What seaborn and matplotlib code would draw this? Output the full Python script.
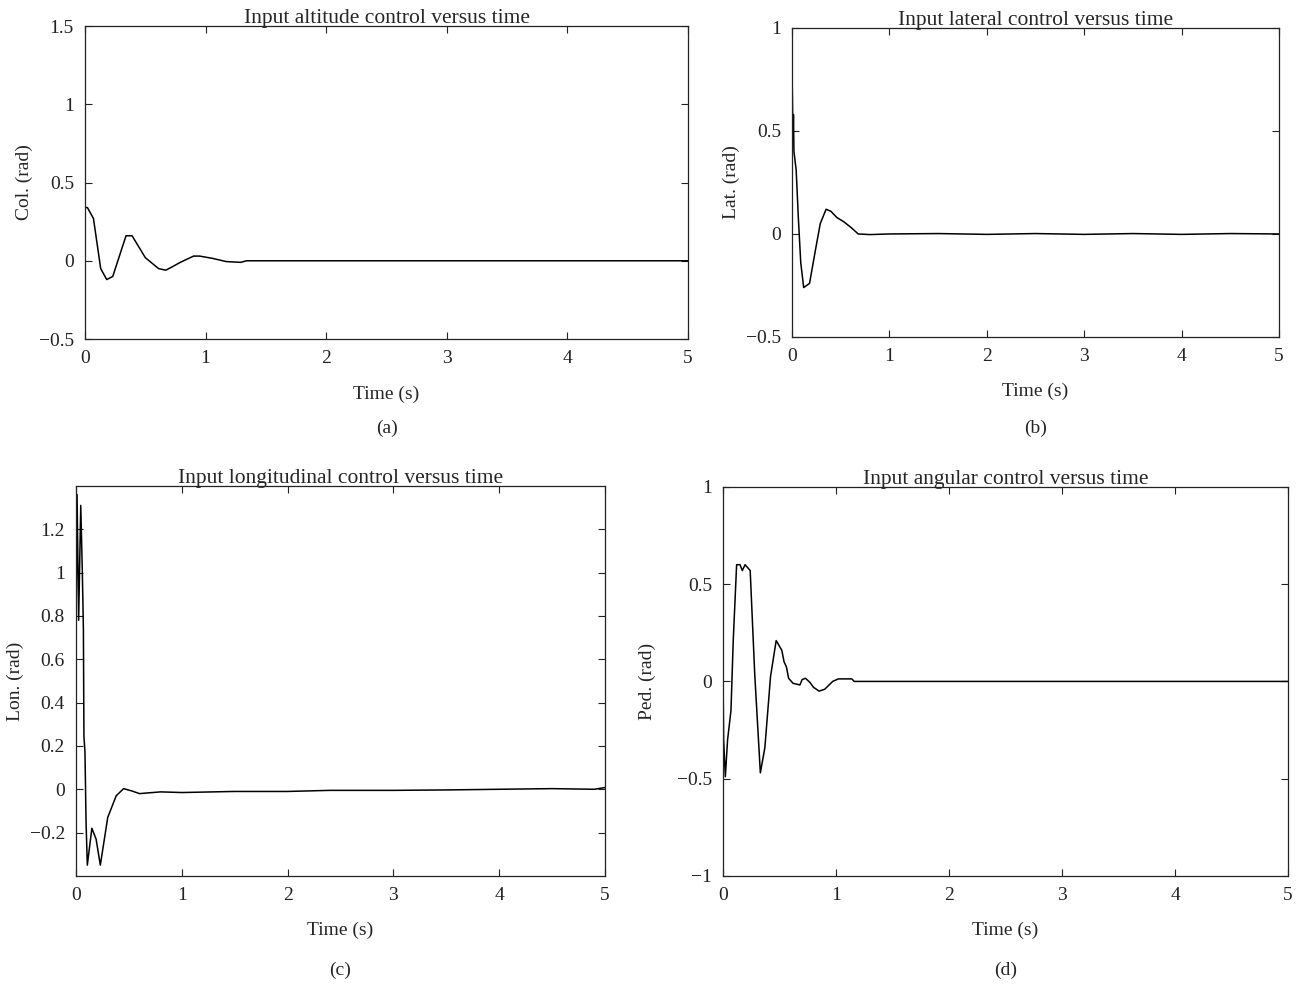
import numpy as np
import pandas as pd
import matplotlib
matplotlib.use("Agg")
import matplotlib.pyplot as plt
import seaborn as sns

# (a) collective / altitude control
col_t = [0.0, 0.02, 0.07, 0.13, 0.18, 0.23, 0.34, 0.39, 0.50, 0.61, 0.67, 0.72,
         0.79, 0.90, 0.95, 1.06, 1.17, 1.29, 1.34, 5.0]
col_u = [0.34, 0.34, 0.27, -0.05, -0.12, -0.10, 0.16, 0.16, 0.02, -0.05, -0.06,
         -0.04, -0.01, 0.03, 0.03, 0.015, -0.005, -0.01, 0.0, 0.0]

# (b) lateral control
lat_t = [0.003, 0.01, 0.015, 0.02, 0.043, 0.065, 0.09, 0.12, 0.18, 0.24, 0.29, 0.35,
         0.40, 0.46, 0.53, 0.61, 0.68, 0.8, 1.0, 1.5, 2.0, 2.5, 3.0, 3.5, 4.0,
         4.5, 5.0]
lat_u = [0.71, 0.45, 0.58, 0.40, 0.31, 0.08, -0.14, -0.26, -0.24, -0.08, 0.05,
         0.12, 0.11, 0.08, 0.06, 0.03, 0.0, -0.003, 0.0, 0.002, -0.002, 0.002,
         -0.002, 0.002, -0.002, 0.002, 0.0]

# (c) longitudinal control
lon_t = [0.0, 0.01, 0.025, 0.045, 0.06, 0.07, 0.075, 0.085, 0.095, 0.107, 0.15,
         0.19, 0.23, 0.30, 0.38, 0.45, 0.53, 0.60, 0.8, 1.0, 1.5, 2.0, 2.4, 3.0,
         3.5, 4.0, 4.5, 4.9, 5.0]
lon_u = [0.72, 1.36, 0.78, 1.31, 1.0, 0.74, 0.245, 0.17, -0.15, -0.35, -0.18,
         -0.23, -0.35, -0.13, -0.03, 0.003, -0.008, -0.02, -0.012, -0.015,
         -0.01, -0.01, -0.005, -0.005, -0.003, 0.0, 0.003, 0.0, 0.008]

# (d) pedal / angular control
ped_t = [0.0, 0.005, 0.02, 0.04, 0.07, 0.09, 0.12, 0.15, 0.17, 0.195, 0.24, 0.28,
         0.33, 0.37, 0.42, 0.47, 0.52, 0.54, 0.56, 0.58, 0.62, 0.68, 0.70, 0.73,
         0.77, 0.80, 0.85, 0.90, 0.97, 1.02, 1.14, 1.16, 5.0]
ped_u = [0.0, -0.30, -0.49, -0.30, -0.15, 0.21, 0.60, 0.60, 0.57, 0.60, 0.57,
         0.04, -0.47, -0.34, 0.025, 0.21, 0.16, 0.10, 0.076, 0.016, -0.01,
         -0.018, 0.01, 0.016, -0.006, -0.03, -0.05, -0.04, 0.0, 0.013, 0.013,
         0.0, 0.0]

titles = ["Input altitude control versus time", "Input lateral control versus time",
          "Input longitudinal control versus time", "Input angular control versus time"]
ylabels = ["Col. (rad)", "Lat. (rad)", "Lon. (rad)", "Ped. (rad)"]
panel_tags = ["(a)", "(b)", "(c)", "(d)"]
yticks = [[-0.5, 0, 0.5, 1, 1.5], [-0.5, 0, 0.5, 1],
          [-0.2, 0, 0.2, 0.4, 0.6, 0.8, 1, 1.2], [-1, -0.5, 0, 0.5, 1]]
ylims = [(-0.5, 1.5), (-0.5, 1), (-0.4, 1.4), (-1, 1)]

sns.set_style("ticks")
plt.rcParams["font.family"] = ["Liberation Serif", "DejaVu Serif"]
plt.rcParams["font.size"] = 14

fig = plt.figure(figsize=(13.08, 9.85), dpi=100)
rects = [[0.065, 0.6558, 0.461, 0.3178],
         [0.6055, 0.6579, 0.3723, 0.3137],
         [0.0581, 0.1107, 0.4044, 0.396],
         [0.5528, 0.1107, 0.432, 0.395]]
series = [(col_t, col_u), (lat_t, lat_u), (lon_t, lon_u), (ped_t, ped_u)]
ylabel_pads = [4, 4, 4, 15]
tag_y = [0.5655, 0.5655, 0.0152, 0.0152]


def fmt(v):
    s = f"{v:g}"
    return s.replace("-", "\u2212")


for i, (t, u) in enumerate(series):
    ax = fig.add_axes(rects[i])
    df = pd.DataFrame({"t": t, "u": u})
    sns.lineplot(data=df, x="t", y="u", ax=ax, color="black", linewidth=1.1,
                 estimator=None, sort=False)
    ax.set_xlim(0, 5)
    ax.set_ylim(*ylims[i])
    ax.set_xticks(range(6))
    ax.set_xticklabels([str(k) for k in range(6)])
    ax.set_yticks(yticks[i])
    ax.set_yticklabels([fmt(v) for v in yticks[i]])
    ax.tick_params(direction="in", top=True, right=True, length=5, width=0.8,
                   labelsize=14, pad=8, colors="#222222", labelcolor="#222222")
    for sp in ax.spines.values():
        sp.set_visible(True)
        sp.set_color("#222222")
        sp.set_linewidth(0.9)
    ax.set_title(titles[i], fontsize=15.5, pad=2)
    ax.set_xlabel("Time (s)", fontsize=14, labelpad=13)
    ax.set_ylabel(ylabels[i], fontsize=14, labelpad=ylabel_pads[i])
    x_mid = rects[i][0] + rects[i][2] / 2
    fig.text(x_mid, tag_y[i], panel_tags[i], ha="center", va="center", fontsize=14)

fig.savefig("out.png", dpi=100)
